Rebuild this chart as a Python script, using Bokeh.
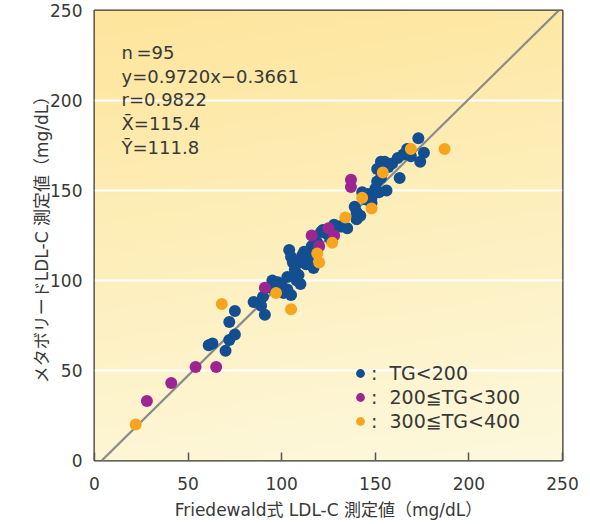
import numpy as np
from bokeh.plotting import figure
from bokeh.models import Legend, LegendItem, Label, FixedTicker
from bokeh.embed import file_html
from bokeh.resources import INLINE

# ---------------- data ----------------
blue_x = [61, 63, 70, 72, 75, 72, 75,
          85, 89, 91, 90, 94, 95, 98, 100, 101, 103, 105, 103, 108, 110, 109, 107,
          104, 105, 109, 111, 114, 113, 117, 97, 106,
          116, 118, 119, 121, 122, 124, 126, 131, 132, 135, 112, 128,
          140, 140, 139, 142, 143, 146, 148, 148, 150, 151, 152, 153, 156, 151, 145,
          153, 155, 157, 159, 162, 163, 165, 167, 169, 173, 174, 176]
blue_y = [64, 65, 61, 67, 70, 77, 83,
          88, 86, 81, 91, 96, 100, 99, 97, 93, 95, 92, 102, 100, 98, 103, 106,
          117, 113, 110, 114, 112, 109, 107, 94, 110,
          119, 116, 121, 127, 128, 126, 123, 130, 130, 129, 116, 131,
          134, 138, 141, 136, 149, 148, 143, 146, 151, 155, 149, 157, 150, 162, 145,
          166, 166, 163, 165, 168, 157, 170, 173, 169, 179, 166, 171]

purple_x = [28, 41, 54, 65, 91, 116, 125, 120, 128, 137, 137]
purple_y = [33, 43, 52, 52, 96, 125, 129, 119, 125, 156, 152]

orange_x = [22, 68, 105, 97, 119, 120, 127, 134, 143, 148, 154, 169, 187]
orange_y = [20, 87, 84, 93, 115, 110, 121, 135, 146, 140, 160, 173, 173]

# drawn reference line, as it appears in the picture
line_x = [3.9, 248]
line_y = [0, 250]

series_labels = ["TG<200", "200\u2266TG<300", "300\u2266TG<400"]
stats_text = ["n\u2009=95", "y=0.9720x\u22120.3661", "r=0.9822",
              "X\u0304=115.4", "\u0232=111.8"]
ticks = [0, 50, 100, 150, 200, 250]
x_title = "Friedewald式 LDL-C 測定値（mg/dL）"
y_title = "メタボリードLDL-C 測定値（mg/dL）"

# ---------------- styling ----------------
BLUE = "#134e90"
PURPLE = "#9c2592"
ORANGE = "#f7a51f"
TXT = "#383838"
LATIN = "DejaVu Sans"
MIXED = "'DejaVu Sans', 'Noto Sans CJK JP'"

p = figure(width=582, height=522, x_range=(0, 250), y_range=(0, 250),
           output_backend="svg", toolbar_location=None,
           min_border_left=94, min_border_right=20,
           min_border_top=10, min_border_bottom=59)
p.background_fill_color = "#fef6d0"
p.border_fill_color = "white"
p.outline_line_color = "#333333"
p.outline_line_width = 2

# gradient background
H, W = 120, 60
tv = np.linspace(0, 1, H)[:, None]
sv = np.linspace(0, 1, W)[None, :]
mix = np.clip(tv * 0.85 + (1 - sv) * 0.15, 0, 1)
top_c = np.array([253, 229, 155])
bot_c = np.array([254, 249, 222])
rgb = bot_c[None, None, :] + (top_c - bot_c)[None, None, :] * mix[:, :, None]
img = np.empty((H, W), dtype=np.uint32)
view = img.view(dtype=np.uint8).reshape((H, W, 4))
view[:, :, 0] = rgb[:, :, 0].astype(np.uint8)
view[:, :, 1] = rgb[:, :, 1].astype(np.uint8)
view[:, :, 2] = rgb[:, :, 2].astype(np.uint8)
view[:, :, 3] = 255
p.image_rgba(image=[img], x=0, y=0, dw=250, dh=250, level="image")

# grid
p.xgrid.grid_line_color = None
p.ygrid.ticker = FixedTicker(ticks=ticks)
p.ygrid.grid_line_color = "white"
p.ygrid.grid_line_width = 2

# axes
for ax in (p.xaxis[0], p.yaxis[0]):
    ax.ticker = FixedTicker(ticks=ticks)
    ax.axis_line_color = None
    ax.minor_tick_line_color = None
    ax.major_label_text_font = LATIN
    ax.major_label_text_font_size = "17px"
    ax.major_label_text_color = TXT
    ax.axis_label_text_font = MIXED
    ax.axis_label_text_font_size = "17px"
    ax.axis_label_text_font_style = "normal"
    ax.axis_label_text_color = TXT

p.xaxis.major_tick_in = 8
p.xaxis.major_tick_out = 0
p.xaxis.major_tick_line_color = "#555555"
p.xaxis.major_tick_line_width = 1.5
p.xaxis.major_label_standoff = 16
p.xaxis.axis_label = x_title
p.xaxis.axis_label_standoff = 7

p.yaxis.major_tick_in = 0
p.yaxis.major_tick_out = 0
p.yaxis.major_tick_line_color = None
p.yaxis.major_label_standoff = 12
p.yaxis.axis_label = y_title
p.yaxis.axis_label_standoff = -5

# reference line
p.line(line_x, line_y, line_color="#8a8a8a", line_width=2.2)

# points
rb = p.scatter(blue_x, blue_y, size=12, color=BLUE, line_color=None)
rp = p.scatter(purple_x, purple_y, size=12, color=PURPLE, line_color=None)
ro = p.scatter(orange_x, orange_y, size=12, color=ORANGE, line_color=None)

# legend
items = [LegendItem(label=":\u00a0\u00a0" + lab, renderers=[r])
         for lab, r in zip(series_labels, [rb, rp, ro])]
legend = Legend(items=items, location=(255, 28), orientation="vertical",
                glyph_width=22, glyph_height=22, spacing=2, padding=0, margin=0,
                label_standoff=0, label_height=22,
                label_text_font=LATIN, label_text_font_size="19px",
                label_text_color=TXT, label_text_baseline="middle",
                background_fill_alpha=0, border_line_color=None)
p.add_layout(legend, "center")

# stats text
stat_y0 = 408
for i, s in enumerate(stats_text):
    p.add_layout(Label(x=27, y=stat_y0 - 23.7 * i, x_units="screen", y_units="screen",
                       text=s, text_font=LATIN, text_font_size="18px",
                       text_color=TXT, text_baseline="middle"))

open("out.html", "w").write(file_html(p, INLINE))
